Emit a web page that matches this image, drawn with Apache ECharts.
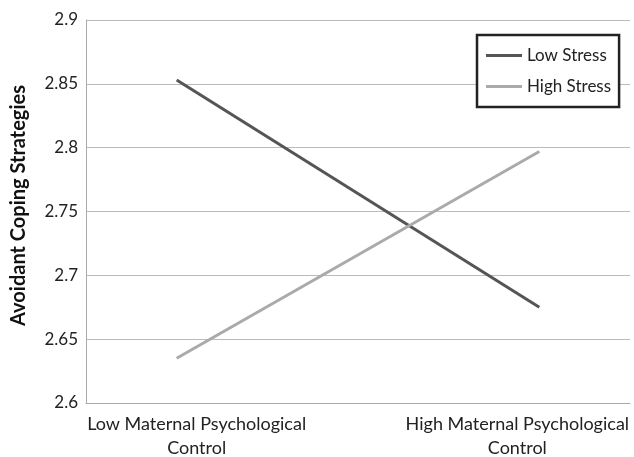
<!DOCTYPE html>
<html>
<head>
<meta charset="utf-8">
<script src="https://cdn.jsdelivr.net/npm/echarts@6/dist/echarts.min.js"></script>
<style>
  html, body { margin: 0; padding: 0; background: #fff; }
  #chart { width: 634px; height: 457px; }
</style>
</head>
<body>
<div id="chart"></div>
<script>
// categories on the x axis
const categories = ['Low Maternal Psychological\nControl', 'High Maternal Psychological\nControl'];
// series values
const lowStress = [2.853, 2.675];
const highStress = [2.635, 2.797];
const seriesNames = ['Low Stress', 'High Stress'];

const chart = echarts.init(document.getElementById('chart'));
const font = 'Lato, "Open Sans", sans-serif';

// category index -> x position (value axis so the points sit where Excel put them)
const toPts = vals => vals.map((v, i) => [i, v]);

chart.setOption({
    animation: false,
    grid: { left: 86, right: 4, top: 20, bottom: 54, outerBoundsMode: 'none' },
    legend: {
        orient: 'vertical',
        left: 477,
        top: 35,
        data: seriesNames,
        icon: 'rect',
        backgroundColor: '#fff',
        borderColor: '#222',
        borderWidth: 2.5,
        padding: [12, 8, 12, 9],
        itemWidth: 36,
        itemHeight: 3,
        itemGap: 14,
        textStyle: { fontFamily: font, fontSize: 17, color: '#222' }
    },
    xAxis: {
        type: 'value',
        min: -0.25,
        max: 1.25,
        interval: 0.25,
        splitLine: { show: false },
        axisTick: { show: false },
        axisLine: { show: true, lineStyle: { color: '#aaa', width: 1 } },
        axisLabel: {
            margin: 9,
            fontFamily: font,
            fontSize: 18,
            color: '#222',
            lineHeight: 24,
            showMinLabel: true,
            showMaxLabel: true,
            hideOverlap: false,
            formatter: function (v) {
                if (Math.abs(v) < 1e-9) return '{lo|' + categories[0].replace('\n', '}\n{lo|') + '}';
                if (Math.abs(v - 1) < 1e-9) return '{hi|' + categories[1].replace('\n', '}\n{hi|') + '}';
                return '';
            },
            rich: {
                lo: { fontFamily: font, fontSize: 18, color: '#222', lineHeight: 24, padding: [0, 0, 0, 40] },
                hi: { fontFamily: font, fontSize: 18, color: '#222', lineHeight: 24, padding: [0, 44, 0, 0] }
            }
        }
    },
    yAxis: {
        type: 'value',
        min: 2.6,
        max: 2.9,
        interval: 0.05,
        name: 'Avoidant Coping Strategies',
        nameLocation: 'middle',
        nameGap: 57,
        nameTextStyle: { fontFamily: font, fontSize: 20, fontWeight: 'bold', color: '#111', padding: [0, 0, 0, 12] },
        axisLine: { show: true, onZero: false, lineStyle: { color: '#aaa', width: 1 } },
        axisTick: { show: false },
        splitLine: { lineStyle: { color: '#bbb', width: 1 } },
        axisLabel: {
            margin: 8,
            fontFamily: font,
            fontSize: 17,
            color: '#222',
            formatter: v => String(+v.toFixed(2))
        }
    },
    series: [{
        name: seriesNames[0],
        type: 'line',
        symbol: 'none',
        data: toPts(lowStress),
        lineStyle: { color: '#555', width: 3 },
        itemStyle: { color: '#555' }
    }, {
        name: seriesNames[1],
        type: 'line',
        symbol: 'none',
        data: toPts(highStress),
        lineStyle: { color: '#aaa', width: 3 },
        itemStyle: { color: '#aaa' }
    }]
});
</script>
</body>
</html>
